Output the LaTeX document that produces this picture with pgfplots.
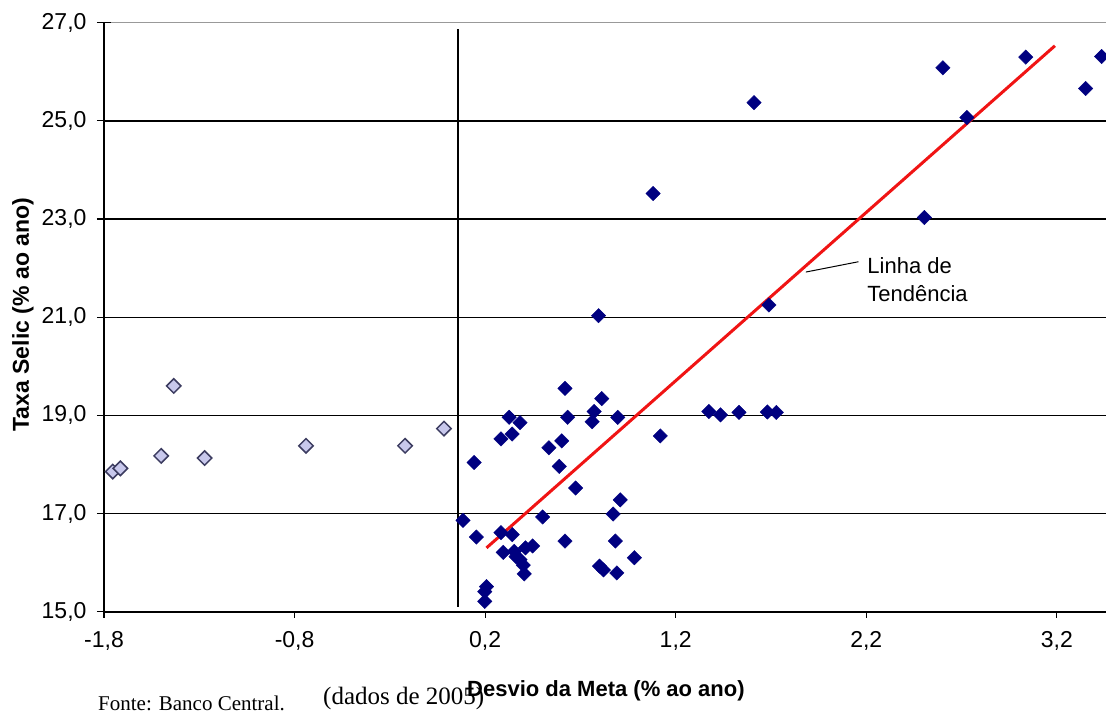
\documentclass[border=0pt]{standalone}
\usepackage{fontspec}
\setmainfont{Liberation Sans}
\newfontfamily\timesfont{Liberation Serif}
\usepackage{pgfplots}
\pgfplotsset{compat=1.18}
\definecolor{navy}{RGB}{0,0,128}
\definecolor{lav}{RGB}{200,200,236}
\definecolor{lavedge}{RGB}{60,60,96}
\definecolor{trend}{RGB}{240,20,20}

\begin{document}
\begin{tikzpicture}
\begin{axis}[
  scale only axis,
  width=1002pt, height=589pt,
  xmin=-1.8, xmax=3.458, ymin=15, ymax=27,
  axis lines=left,
  axis line style={-, line width=1.6pt, black},
  xtick={-1.8,-0.8,0.2,1.2,2.2,3.2},
  xticklabels={-1{,}8,-0{,}8,0{,}2,1{,}2,2{,}2,3{,}2},
  ytick={15,17,19,21,23,25},
  yticklabels={15{,}0,17{,}0,19{,}0,21{,}0,23{,}0,25{,}0},
  extra y ticks={27},
  extra y tick labels={27{,}0},
  extra y tick style={grid style={gray!80, line width=1.6pt}},
  ymajorgrids,
  grid style={black, line width=1.4pt},
  tick align=outside,
  major tick length=6pt,
  tick style={black, line width=1.2pt},
  ticklabel style={font=\fontsize{23}{27}\selectfont},
  yticklabel style={xshift=-8pt},
  xticklabel style={yshift=-10pt},
  clip=false,
]
\coordinate (sw) at (rel axis cs:0,0);
\coordinate (ne) at (rel axis cs:1,1);

% y ticks cross the axis
\pgfplotsinvokeforeach{15,17,19,21,23,25,27}{
  \draw[black, line width=1.2pt] (axis cs:-1.8,#1) ++(-7pt,0pt) -- ++(14pt,0pt);
}

% vertical reference line
\draw[black, line width=2pt] (axis cs:0.06,15.1) -- (axis cs:0.06,26.87);

% light series
\addplot[only marks, mark=square*, mark size=5.1pt,
  mark options={rotate=45, fill=lav, draw=lavedge, line width=1.5pt}] coordinates {
  (-1.754,17.855) (-1.714,17.92) (-1.5,18.175) (-1.434,19.6)
  (-1.272,18.13) (-0.74,18.38) (-0.22,18.38) (-0.016,18.73)
};

% dark series
\addplot[only marks, mark=square*, mark size=5.1pt,
  mark options={rotate=45, fill=navy, draw=navy}] coordinates {
  (0.619,19.55) (0.812,19.34) (0.326,18.96) (0.383,18.85) (0.633,18.96)
  (0.772,19.08) (0.762,18.87) (0.896,18.96) (0.342,18.62) (0.283,18.52)
  (0.602,18.48) (0.535,18.34) (1.119,18.58) (0.142,18.04) (0.589,17.96)
  (0.675,17.52) (0.909,17.28) (0.872,16.99) (0.084,16.86) (0.502,16.93)
  (0.154,16.52) (0.283,16.61) (0.342,16.57) (0.619,16.44) (0.883,16.44)
  (0.295,16.21) (0.353,16.23) (0.412,16.30) (0.449,16.34) (0.383,16.06)
  (0.405,15.77) (0.362,16.12) (0.40,15.95) (0.983,16.10) (0.821,15.85)
  (0.891,15.79) (0.80,15.93) (0.207,15.51) (0.198,15.41) (0.198,15.21)
  (0.795,21.03) (1.689,21.25) (1.081,23.52) (1.611,25.37) (2.602,26.08)
  (2.728,25.07) (3.037,26.30) (3.351,25.66) (3.435,26.31) (2.505,23.03)
  (1.374,19.08) (1.435,19.01) (1.532,19.06) (1.681,19.07) (1.728,19.06)
};

% trend line
\addplot[trend, line width=3pt, no marks] coordinates {(0.207,16.30) (3.19,26.53)};

% annotation
\draw[black, line width=1pt] (axis cs:1.883,21.92) -- (axis cs:2.159,22.13);
\node[anchor=base west, font=\fontsize{22}{26}\selectfont, inner sep=0pt]
  at (axis cs:2.205,21.90) {Linha de};
\node[anchor=base west, font=\fontsize{22}{26}\selectfont, inner sep=0pt]
  at (axis cs:2.205,21.32) {Tendência};
\end{axis}

\node[anchor=base west, inner sep=0pt, font=\bfseries\fontsize{22}{26}\selectfont]
  at ([xshift=363pt,yshift=-85pt]sw) {Desvio da Meta (\% ao ano)};
\node[rotate=90, inner sep=0pt, font=\bfseries\fontsize{23}{27}\selectfont]
  at ([xshift=-81pt,yshift=297pt]sw) {Taxa Selic (\% ao ano)};
\node[anchor=base west, inner sep=0pt, font=\timesfont\fontsize{21}{25}\selectfont]
  at ([xshift=-6pt,yshift=-99pt]sw) {Fonte: Banco Central.};
\node[anchor=base west, inner sep=0pt, font=\timesfont\fontsize{25}{29}\selectfont]
  at ([xshift=219pt,yshift=-93pt]sw) {(dados de 2005)};

\pgfresetboundingbox
\path ([xshift=-104pt,yshift=-104pt]sw) rectangle ([yshift=22.7pt]ne);
\end{tikzpicture}
\end{document}
